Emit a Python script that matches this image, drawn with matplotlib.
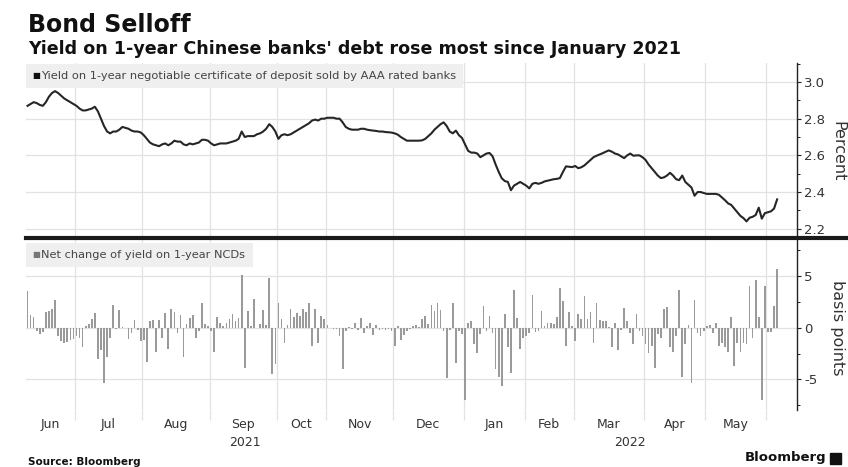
import numpy as np
import matplotlib.pyplot as plt
from matplotlib.patches import Rectangle
from matplotlib.lines import Line2D
from matplotlib.ticker import MultipleLocator, FixedLocator
from matplotlib.transforms import blended_transform_factory

# trading days per month shown on the axis (Jun 2021 .. Jun 2022)
month_names = ['Jun', 'Jul', 'Aug', 'Sep', 'Oct', 'Nov', 'Dec',
               'Jan', 'Feb', 'Mar', 'Apr', 'May', 'Jun']
month_days = [16, 22, 22, 22, 16, 22, 23, 20, 16, 23, 20, 20, 4]
years = ['2021', '2022']

# yield on 1-year NCD, percent (one value per trading day)
yield_pct = [
    2.87, 2.88, 2.89, 2.885, 2.875, 2.87, 2.89, 2.92, 2.94, 2.95,
    2.94, 2.925, 2.91, 2.90, 2.89, 2.88, 2.87, 2.855, 2.845, 2.845,
    2.85, 2.855, 2.865, 2.84, 2.80, 2.76, 2.73, 2.72, 2.73, 2.73,
    2.74, 2.755, 2.75, 2.745, 2.735, 2.73, 2.73, 2.725, 2.71, 2.69,
    2.67, 2.66, 2.655, 2.65, 2.66, 2.665, 2.655, 2.665, 2.68, 2.675,
    2.675, 2.66, 2.655, 2.665, 2.66, 2.665, 2.67, 2.685, 2.685, 2.68,
    2.665, 2.655, 2.66, 2.665, 2.665, 2.665, 2.67, 2.675, 2.68, 2.69,
    2.73, 2.70, 2.705, 2.705, 2.705, 2.715, 2.72, 2.73, 2.745, 2.77,
    2.755, 2.73, 2.69, 2.71, 2.715, 2.71, 2.715, 2.725, 2.735, 2.745,
    2.755, 2.765, 2.775, 2.79, 2.795, 2.79, 2.80, 2.80, 2.805, 2.805,
    2.805, 2.80, 2.80, 2.78, 2.755, 2.745, 2.74, 2.74, 2.74, 2.745,
    2.745, 2.74, 2.737, 2.735, 2.733, 2.73, 2.73, 2.727, 2.726, 2.724,
    2.72, 2.713, 2.70, 2.69, 2.68, 2.68, 2.68, 2.68, 2.68, 2.682,
    2.69, 2.705, 2.72, 2.74, 2.755, 2.77, 2.78, 2.76, 2.73, 2.72,
    2.735, 2.71, 2.695, 2.66, 2.625, 2.615, 2.615, 2.61, 2.59, 2.60,
    2.61, 2.613, 2.595, 2.55, 2.51, 2.475, 2.46, 2.455, 2.41, 2.435,
    2.445, 2.455, 2.445, 2.435, 2.42, 2.445, 2.45, 2.445, 2.45, 2.458,
    2.462, 2.466, 2.47, 2.472, 2.476, 2.51, 2.54, 2.538, 2.536, 2.542,
    2.53, 2.535, 2.545, 2.56, 2.575, 2.59, 2.598, 2.605, 2.612, 2.62,
    2.627, 2.62, 2.61, 2.605, 2.595, 2.585, 2.60, 2.61, 2.598, 2.60,
    2.60, 2.59, 2.575, 2.55, 2.53, 2.51, 2.49, 2.476, 2.48, 2.49,
    2.505, 2.49, 2.47, 2.465, 2.49, 2.455, 2.44, 2.425, 2.38, 2.40,
    2.40, 2.395, 2.39, 2.39, 2.39, 2.39, 2.385, 2.37, 2.355, 2.338,
    2.33, 2.31, 2.29, 2.27, 2.258, 2.24, 2.26, 2.265, 2.275, 2.315,
    2.255, 2.285, 2.29, 2.295, 2.31, 2.36,
]

# daily net change, basis points
net_change_bp = [
    3.5, 1.2, 1.0, -0.3, -0.6, -0.4, 1.5, 1.6, 1.8, 2.7,
    -0.8, -1.3, -1.5, -1.4, -1.2, -1.1, -0.8, -1.0, -1.9, 0.2,
    0.4, 0.8, 1.4, -3.0, -2.2, -5.3, -2.8, -1.0, 2.2, -0.1,
    1.7, 0.1, 0.0, -1.1, -0.5, 0.7, -0.2, -1.3, -1.2, -3.3,
    0.6, 0.7, -2.3, 0.7, -1.0, 1.4, -2.1, 1.8, 1.5, -0.5,
    1.2, -2.8, 0.4, 0.9, 1.2, -1.0, -0.3, 2.4, 0.4, 0.2,
    -0.3, -2.3, 1.0, 0.5, 0.2, 0.5, 0.8, 1.3, 0.6, 0.9,
    5.1, -3.9, 1.6, 0.2, 2.8, 0.0, 0.4, 1.7, 0.3, 4.8,
    -4.5, -3.5, 2.4, 0.8, -1.5, 0.3, 1.8, 1.0, 1.4, 1.1,
    1.8, 1.5, 2.4, -1.8, 1.8, -1.5, 1.1, 0.8, 0.3, 0.0,
    -0.1, -0.1, -0.8, -4.0, -0.3, 0.1, -0.1, 0.5, -0.2, 0.9,
    -0.5, 0.2, 0.5, -0.7, 0.3, -0.2, -0.1, -0.2, -0.1, -0.3,
    -1.8, 0.2, -1.2, -0.7, -0.3, -0.1, 0.2, 0.3, 0.1, 0.8,
    1.1, 0.4, 2.2, 1.6, 2.4, 1.7, -0.3, -4.9, -0.2, 2.4,
    -3.4, -0.3, -0.6, -7.0, 0.5, 0.6, -1.6, -2.4, -0.6, 2.1,
    -0.3, 1.1, -0.5, -4.0, -4.8, -5.6, 1.3, -1.9, -4.4, 3.6,
    0.9, -2.1, -1.0, -0.8, -0.5, 3.2, -0.4, -0.3, 1.6, 0.2,
    0.5, 0.5, 0.4, 1.0, 3.8, 2.6, -1.8, 1.5, 0.2, -1.3,
    1.3, 0.8, 3.1, 0.8, 1.5, -1.5, 2.4, 0.7, 0.6, 0.6,
    0.1, -1.9, 0.5, -2.2, -0.2, 1.9, 0.6, -0.5, -1.6, 1.3,
    -0.3, -0.8, -1.6, -2.4, -1.8, -3.9, -0.6, -1.0, 1.8, 2.0,
    -1.9, -2.3, -0.8, 3.6, -4.8, -1.6, 0.3, -5.3, 2.7, -0.5,
    -0.8, -0.3, 0.2, 0.3, -0.5, 0.5, -1.8, -1.5, -1.9, -2.3,
    1.0, -3.7, -1.5, -2.3, -1.5, -1.6, 4.0, -1.0, 4.6, 1.0,
    -7.0, 4.0, -0.4, -0.4, 2.1, 5.7,
]

x = np.arange(len(yield_pct))
xlim = (-0.5, 251.5)

W, H = 848, 467
fig = plt.figure(figsize=(W / 100, H / 100), dpi=100)


def px_box(l, t, r, b):
    return [l / W, 1 - b / H, (r - l) / W, (b - t) / H]


ax1 = fig.add_axes(px_box(26, 63, 797, 237))
ax2 = fig.add_axes(px_box(26, 239, 797, 410))

ax1.plot(x, yield_pct, color='#262626', lw=1.5, zorder=3)
ax2.bar(x, net_change_bp, width=0.55, color='#9a9a9a', zorder=3)

# month boundaries and label positions
starts = np.concatenate([[0], np.cumsum(month_days)[:-1]])
bounds = starts[1:] - 0.5
ends = np.cumsum(month_days) - 0.5
mids = []
for s, e in zip(starts - 0.5, ends):
    mids.append((max(s, xlim[0]) + min(e, xlim[1])) / 2)

grid_c = '#e2e2e2'
for ax in (ax1, ax2):
    ax.set_xlim(*xlim)
    for s in ('top', 'left', 'bottom'):
        ax.spines[s].set_visible(False)
    ax.spines['right'].set_color('#222222')
    ax.spines['right'].set_linewidth(1.0)
    ax.yaxis.tick_right()
    ax.tick_params(axis='y', which='major', direction='out', length=3,
                   width=0.8, color='#222222', labelsize=9.5,
                   labelcolor='#333333', pad=2)
    ax.tick_params(axis='y', which='minor', direction='out', length=2,
                   width=0.7, color='#222222')
    ax.xaxis.set_major_locator(FixedLocator(bounds))
    ax.grid(True, which='major', color=grid_c, lw=0.9, zorder=0)
    ax.set_axisbelow(True)

ax1.set_ylim(2.155, 3.1035)
ax1.yaxis.set_major_locator(MultipleLocator(0.2))
ax1.yaxis.set_minor_locator(MultipleLocator(0.1))
ax1.yaxis.set_major_formatter(plt.FormatStrFormatter('%.1f'))
ax1.tick_params(axis='x', which='both', length=0, labelbottom=False)

ax2.set_ylim(-7.95, 8.57)
ax2.yaxis.set_major_locator(MultipleLocator(5))
ax2.yaxis.set_minor_locator(MultipleLocator(2.5))
ax2.yaxis.set_major_formatter(plt.FuncFormatter(lambda v, p: '%d' % v))
ax2.tick_params(axis='x', which='major', length=7, color=grid_c,
                width=0.9, labelbottom=False)
ax2.xaxis.set_minor_locator(FixedLocator(mids[:-1]))
ax2.set_xticklabels(month_names[:-1], minor=True)
ax2.tick_params(axis='x', which='minor', length=0, labelsize=9,
                labelcolor='#333333', pad=6)

# year labels centred on each year's span
trans = blended_transform_factory(ax2.transData, ax2.transAxes)
jan = starts[7] - 0.5
ax2.text((xlim[0] + jan) / 2, -0.19, years[0], transform=trans,
         ha='center', va='center', fontsize=9, color='#333333')
ax2.text((jan + xlim[1]) / 2, -0.19, years[1], transform=trans,
         ha='center', va='center', fontsize=9, color='#333333')


# legend boxes
def legend_box(ax, top, bottom, right, ax_top, ax_bottom, label, sq_color):
    h = ax_bottom - ax_top
    y0 = (ax_bottom - bottom) / h
    y1 = (ax_bottom - top) / h
    ax.add_patch(Rectangle((0, y0), (right - 26) / 771, y1 - y0,
                           transform=ax.transAxes, color='#efefef',
                           zorder=1, lw=0))
    ym = (y0 + y1) / 2
    ax.text(6 / 771, ym, '\u25a0', transform=ax.transAxes, fontsize=6,
            color=sq_color, va='center', ha='left', zorder=4)
    ax.text(15 / 771, ym, label, transform=ax.transAxes, fontsize=8.2,
            color='#444444', va='center', ha='left', zorder=4)


legend_box(ax1, 64, 88, 463, 63, 237,
           'Yield on 1-year negotiable certificate of deposit sold by AAA rated banks',
           '#111111')
legend_box(ax2, 243, 267, 253, 239, 410,
           'Net change of yield on 1-year NCDs', '#777777')

# axis titles on the right
fig.text(838 / W, 1 - 151 / H, 'Percent', rotation=270, ha='center',
         va='center', fontsize=11.5, color='#333333')
fig.text(838 / W, 1 - 328 / H, 'basis points', rotation=270, ha='center',
         va='center', fontsize=11.5, color='#333333')

# thick separator between panels
fig.add_artist(Line2D([26 / W, 1.0], [1 - 238 / H, 1 - 238 / H],
                      lw=3, color='#1a1a1a'))

# titles and footer
fig.text(28 / W, 1 - 32 / H, 'Bond Selloff', fontsize=17,
         fontweight='bold', va='baseline', color='#111111')
fig.text(28 / W, 1 - 54 / H,
         "Yield on 1-year Chinese banks' debt rose most since January 2021",
         fontsize=12.6, fontweight='bold', va='baseline', color='#111111')
fig.text(28 / W, 1 - 462 / H, 'Source: Bloomberg', fontsize=7.5,
         fontweight='bold', va='center', color='#111111')
fig.text(826 / W, 1 - 458 / H, 'Bloomberg', fontsize=9.5,
         fontweight='bold', va='center', ha='right', color='#111111')
fig.add_artist(Rectangle((830 / W, 1 - 464 / H), 11 / W, 11 / H,
                         transform=fig.transFigure, color='#111111'))

fig.savefig('out.png', dpi=100)
